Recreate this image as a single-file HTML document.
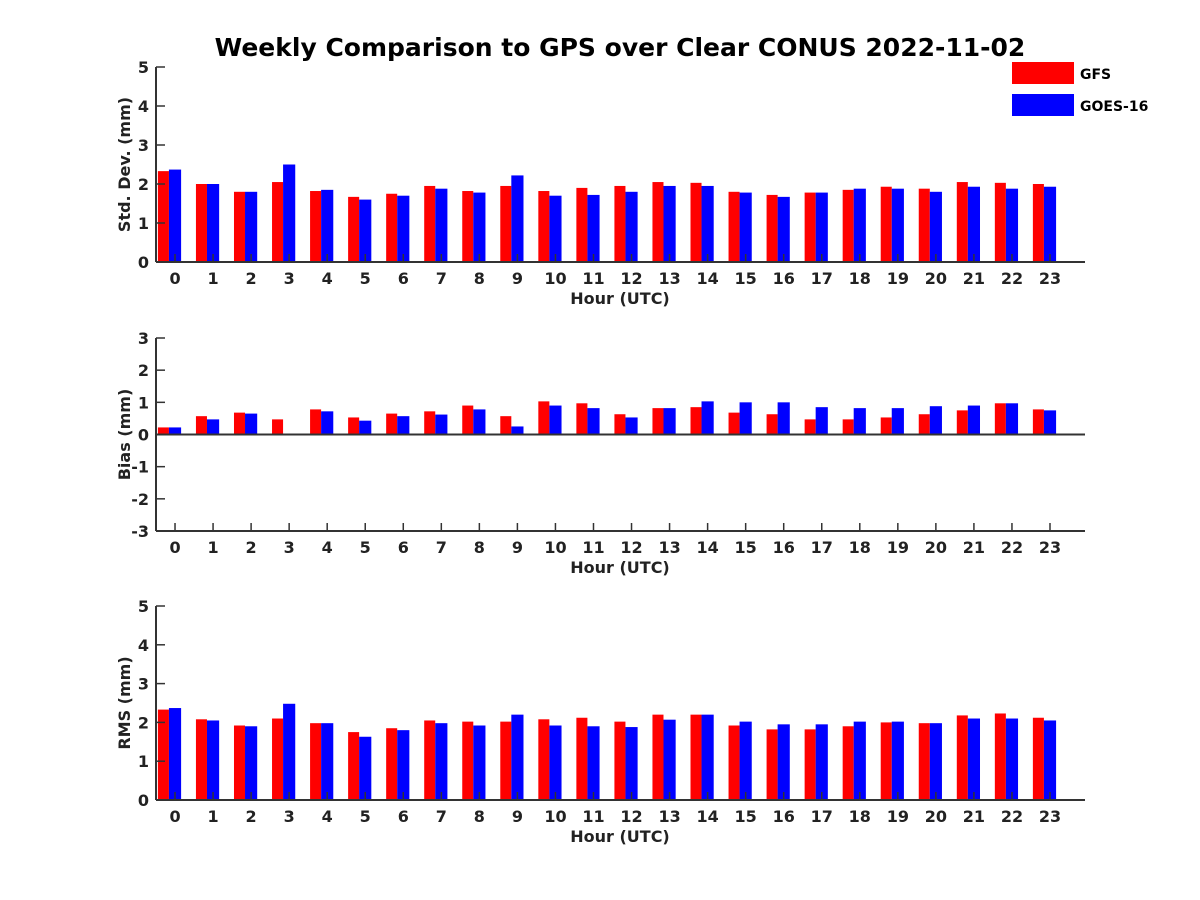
<!DOCTYPE html>
<html><head><meta charset="utf-8"><style>body{margin:0;background:#fff}svg{display:block;font-family:"DejaVu Sans","Liberation Sans",sans-serif;font-weight:bold}</style></head>
<body>
<svg id="c" width="1200" height="900">
<text x="620" y="56" text-anchor="middle" font-size="25" fill="#000">Weekly Comparison to GPS over Clear CONUS 2022-11-02</text>
<g>
<rect x="1012" y="62" width="62" height="22" fill="#ff0000"/>
<text x="1080" y="79" font-size="14">GFS</text>
<rect x="1012" y="94" width="62" height="22" fill="#0000ff"/>
<text x="1080" y="111" font-size="14">GOES-16</text>
</g>
</svg>
<script>
const hours=[0,1,2,3,4,5,6,7,8,9,10,11,12,13,14,15,16,17,18,19,20,21,22,23];
const stdGFS=[2.33,2.0,1.8,2.05,1.82,1.67,1.75,1.95,1.82,1.95,1.82,1.9,1.95,2.05,2.03,1.8,1.72,1.78,1.85,1.93,1.88,2.05,2.03,2.0];
const stdGOES=[2.37,2.0,1.8,2.5,1.85,1.6,1.7,1.88,1.78,2.22,1.7,1.72,1.8,1.95,1.95,1.78,1.67,1.78,1.88,1.88,1.8,1.93,1.88,1.93];
const biasGFS=[0.22,0.57,0.68,0.47,0.78,0.53,0.65,0.72,0.9,0.57,1.03,0.97,0.63,0.82,0.85,0.68,0.63,0.47,0.47,0.53,0.63,0.75,0.97,0.78];
const biasGOES=[0.22,0.47,0.65,0,0.72,0.43,0.57,0.62,0.78,0.25,0.9,0.82,0.53,0.82,1.03,1.0,1.0,0.85,0.82,0.82,0.88,0.9,0.97,0.75];
const rmsGFS=[2.33,2.08,1.92,2.1,1.98,1.75,1.85,2.05,2.02,2.02,2.08,2.12,2.02,2.2,2.2,1.92,1.82,1.82,1.9,2.0,1.98,2.18,2.23,2.12];
const rmsGOES=[2.37,2.05,1.9,2.48,1.98,1.63,1.8,1.98,1.92,2.2,1.92,1.9,1.88,2.07,2.2,2.02,1.95,1.95,2.02,2.02,1.98,2.1,2.1,2.05];
const stdTicks=[0,1,2,3,4,5];
const biasTicks=[-3,-2,-1,0,1,2,3];
const rmsTicks=[0,1,2,3,4,5];
const svg=document.getElementById('c');
const NS='http://www.w3.org/2000/svg';
function mk(t,a,p){const e=document.createElementNS(NS,t);for(const k in a)e.setAttribute(k,a[k]);(p||svg).appendChild(e);return e;}
const X0=156,X1=1085,XMIN=-0.5,XMAX=23.92;
const xs=v=>X0+(v-XMIN)/(XMAX-XMIN)*(X1-X0);
function panel(name,top,bot,ymin,ymax,ticks,a,b,ytitle){
  const g=mk('g',{});
  
  
  const ys=v=>bot-(v-ymin)/(ymax-ymin)*(bot-top);
  hours.forEach((h,i)=>{
    const r=mk('rect',{x:xs(h-0.45),width:xs(h-0.16)-xs(h-0.45),y:Math.min(ys(a[i]),ys(0)),height:Math.abs(ys(a[i])-ys(0)),fill:'#ff0000'},g);
    
    
    const s=mk('rect',{x:xs(h-0.16),width:xs(h+0.16)-xs(h-0.16),y:Math.min(ys(b[i]),ys(0)),height:Math.abs(ys(b[i])-ys(0)),fill:'#0000ff'},g);
    
    
    mk('line',{x1:xs(h),x2:xs(h),y1:bot,y2:bot-8,stroke:'#333','stroke-width':1.5},g);
    const t=mk('text',{x:xs(h),y:bot+22,'text-anchor':'middle','font-size':16,fill:'#222'},g);
    t.textContent=h;
    
    
  });
  ticks.forEach(v=>{
    mk('line',{x1:X0,x2:X0+9,y1:ys(v),y2:ys(v),stroke:'#333','stroke-width':1.5},g);
    const t=mk('text',{x:X0-7,y:ys(v)+6,'text-anchor':'end','font-size':16,fill:'#222'},g);
    t.textContent=v;
    
    
  });
  mk('line',{x1:X0,x2:X0,y1:top,y2:bot,stroke:'#333','stroke-width':2},g);
  mk('line',{x1:X0,x2:X1,y1:bot,y2:bot,stroke:'#333','stroke-width':2},g);
  if(ymin<0) mk('line',{x1:X0,x2:X1,y1:ys(0),y2:ys(0),stroke:'#333','stroke-width':2},g);
  const xt=mk('text',{x:620,y:bot+42,'text-anchor':'middle','font-size':16,fill:'#222'},g);
  xt.textContent='Hour (UTC)';
  
  
  const yt=mk('text',{x:0,y:0,'text-anchor':'middle','font-size':16,fill:'#222',transform:`translate(130,${(top+bot)/2}) rotate(-90)`},g);
  yt.textContent=ytitle;
  
  
}
panel('std-dev',67,262,0,5,stdTicks,stdGFS,stdGOES,'Std. Dev. (mm)');
panel('bias',338,531,-3,3,biasTicks,biasGFS,biasGOES,'Bias (mm)');
panel('rms',606,800,0,5,rmsTicks,rmsGFS,rmsGOES,'RMS (mm)');
</script>
</body></html>
